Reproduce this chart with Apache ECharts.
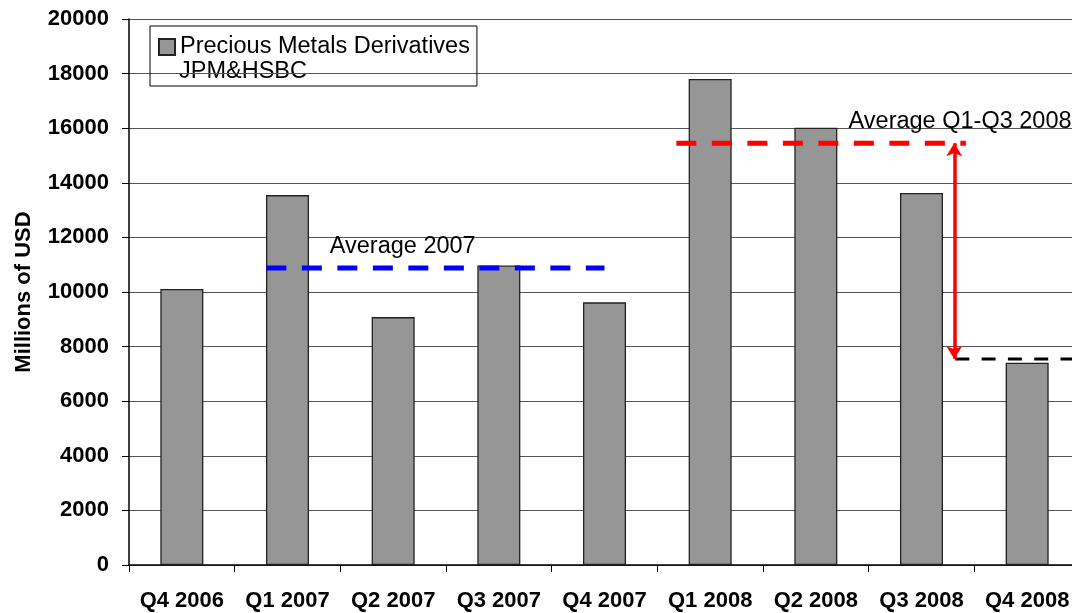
<!DOCTYPE html>
<html>
<head>
<meta charset="utf-8">
<script src="https://cdn.jsdelivr.net/npm/echarts@6/dist/echarts.min.js"></script>
<style>
  html, body { margin: 0; padding: 0; background: #fff; }
  #chart { width: 1072px; height: 613px; }
</style>
</head>
<body>
<div id="chart"></div>
<script>
// quarters on the x axis
const categories = ['Q4 2006', 'Q1 2007', 'Q2 2007', 'Q3 2007', 'Q4 2007',
                    'Q1 2008', 'Q2 2008', 'Q3 2008', 'Q4 2008'];
// precious metals derivatives, JPM & HSBC (millions of USD)
const derivatives = [10110, 13550, 9080, 10970, 9620, 17800, 16020, 13630, 7410];

// reference lines: [categoryPosition, value] end points
const avg2007Line = [[0.8, 10880], [4.0, 10880]];
const avg2008Line = [[4.68, 15450], [7.42, 15450]];
const q4Line = [[7.32, 7550], [8.5, 7550]];
const dropArrow = [[7.31, 15450], [7.31, 7550]];

// annotation texts anchored at [categoryPosition, value]
const notes = [
  { text: 'Average 2007', at: [1.40, 11650] },
  { text: 'Average Q1-Q3 2008', at: [6.31, 16230] }
];

const FONT = '"Liberation Sans", Arial, sans-serif';
const chart = echarts.init(document.getElementById('chart'), null, { renderer: 'canvas' });

chart.setOption({
  animation: false,
  backgroundColor: '#fff',
  grid: { left: 129, top: 19, width: 951, height: 546, outerBoundsMode: 'none' },
  legend: {
    left: 150, top: 26,
    padding: [9, 7, 27, 8],
    borderColor: '#000', borderWidth: 1,
    icon: 'rect',
    itemWidth: 16, itemHeight: 16,
    textStyle: { fontFamily: FONT, fontSize: 23.5, color: '#000' },
    data: ['Precious Metals Derivatives']
  },
  graphic: [{
    type: 'text',
    style: { text: 'JPM&HSBC', x: 179, y: 72, font: '23.5px ' + FONT, fill: '#000', verticalAlign: 'middle' }
  }],
  xAxis: [{
    type: 'category',
    data: categories,
    axisLine: { lineStyle: { color: '#000', width: 1.5 } },
    axisTick: { show: true, length: 7, lineStyle: { color: '#000' } },
    axisLabel: { interval: 0, margin: 25, color: '#000', fontFamily: FONT, fontSize: 22, fontWeight: 'bold' }
  }, {
    type: 'value', min: -0.5, max: 8.5, show: false
  }],
  yAxis: {
    type: 'value', min: 0, max: 20000, interval: 2000,
    name: 'Millions of USD', nameLocation: 'middle', nameGap: 94,
    nameTextStyle: { color: '#000', fontFamily: FONT, fontSize: 22, fontWeight: 'bold' },
    axisLine: { show: true, onZero: false, lineStyle: { color: '#000', width: 1.5 } },
    axisTick: { show: true, length: 7, lineStyle: { color: '#000' } },
    axisLabel: { margin: 20, color: '#000', fontFamily: FONT, fontSize: 22, fontWeight: 'bold',
                 formatter: v => String(v) },
    splitLine: { lineStyle: { color: '#555', width: 1 } }
  },
  series: [{
    name: 'Precious Metals Derivatives',
    type: 'bar',
    data: derivatives,
    barWidth: 43,
    itemStyle: { color: '#969696', borderColor: '#222', borderWidth: 1.3 }
  }, {
    type: 'line', xAxisIndex: 1, data: avg2007Line, symbol: 'none', silent: true,
    lineStyle: { color: '#0000ff', width: 5, type: [20, 15.5], cap: 'butt' }
  }, {
    type: 'line', xAxisIndex: 1, data: avg2008Line, symbol: 'none', silent: true,
    lineStyle: { color: '#ff0000', width: 5, type: [20, 15.5], cap: 'butt' },
    markLine: {
      silent: true,
      symbol: ['arrow', 'arrow'], symbolSize: [12, 13],
      label: { show: false },
      lineStyle: { color: '#ff0000', width: 3.5, type: 'solid' },
      data: [[{ coord: dropArrow[0] }, { coord: dropArrow[1] }]]
    }
  }, {
    type: 'line', xAxisIndex: 1, data: q4Line, symbol: 'none', silent: true,
    lineStyle: { color: '#000', width: 3, type: [14, 12.3], cap: 'butt' }
  }, {
    type: 'scatter', xAxisIndex: 1, symbolSize: 0, silent: true,
    data: notes.map(n => ({ value: n.at, label: { formatter: n.text } })),
    label: { show: true, position: 'right', distance: 0, color: '#000', opacity: 1,
             fontFamily: FONT, fontSize: 23.5 }
  }]
});
</script>
</body>
</html>
